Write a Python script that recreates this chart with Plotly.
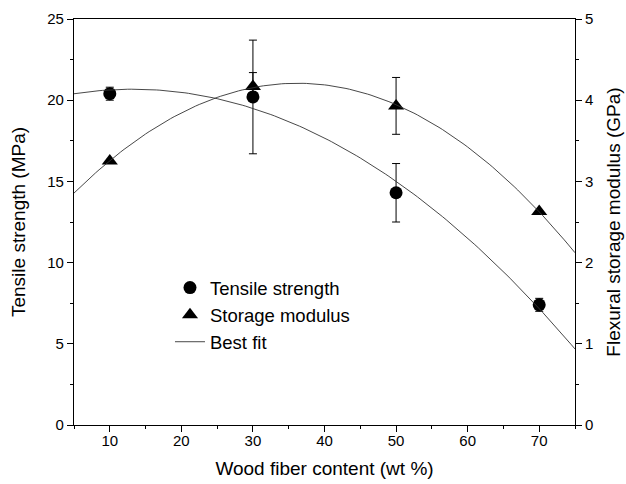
import numpy as np
import plotly.graph_objects as go

# Data
fiber_content = [10, 30, 50, 70]
tensile_strength = [20.4, 20.2, 14.3, 7.4]        # MPa (left axis)
tensile_err = [0.4, 3.5, 1.8, 0.4]
storage_modulus = [3.25, 4.17, 3.93, 2.63]        # GPa (right axis)
storage_err = [0.0, 0.17, 0.35, 0.0]

x_ticks = [10, 20, 30, 40, 50, 60, 70]
y_ticks = [0, 5, 10, 15, 20, 25]
y2_ticks = [0, 1, 2, 3, 4, 5]

# Quadratic best fits computed from the data
xf = np.linspace(5, 75, 141)
fit_t = np.polyval(np.polyfit(fiber_content, tensile_strength, 2), xf)
fit_s = np.polyval(np.polyfit(fiber_content, storage_modulus, 2), xf)

FONT = "Liberation Sans, Arial, sans-serif"
fig = go.Figure()

fig.add_trace(go.Scatter(
    x=fiber_content, y=tensile_strength, mode="markers", name="Tensile strength",
    marker=dict(symbol="circle", size=13, color="black"),
    error_y=dict(type="data", array=tensile_err, color="black", thickness=1, width=4),
    yaxis="y"))
fig.add_trace(go.Scatter(
    x=fiber_content, y=storage_modulus, mode="markers", name="Storage modulus",
    marker=dict(symbol="triangle-up", size=14, color="black"),
    error_y=dict(type="data", array=storage_err, color="black", thickness=1, width=4),
    yaxis="y2"))
fig.add_trace(go.Scatter(
    x=xf, y=fit_t, mode="lines", name="Best fit",
    line=dict(color="#333333", width=0.9), yaxis="y"))
fig.add_trace(go.Scatter(
    x=xf, y=fit_s, mode="lines", name="Best fit", showlegend=False,
    line=dict(color="#333333", width=0.9), yaxis="y2"))

axis_common = dict(showgrid=False, zeroline=False, showline=True, linecolor="black",
                   linewidth=1.2, ticks="outside", ticklen=6, tickwidth=1, tickcolor="black",
                   automargin=False,
                   tickfont=dict(family=FONT, size=15, color="black"))

fig.update_layout(
    width=626, height=484,
    margin=dict(l=74, r=51, t=19, b=59),
    paper_bgcolor="white", plot_bgcolor="white",
    font=dict(family=FONT, color="black"),
    xaxis=dict(range=[5, 75], tickvals=x_ticks, mirror=True, ticklabelstandoff=-4,
               minor=dict(ticks="outside", ticklen=3, dtick=5, tick0=5, tickcolor="black"),
               title=dict(text="Wood fiber content (wt %)", font=dict(family=FONT, size=19), standoff=13),
               **axis_common),
    yaxis=dict(range=[0, 25], tickvals=y_ticks,
               minor=dict(ticks="outside", ticklen=3, dtick=2.5, tick0=0, tickcolor="black"),
               title=dict(text="Tensile strength (MPa)", font=dict(family=FONT, size=19), standoff=16),
               **axis_common),
    yaxis2=dict(range=[0, 5], tickvals=y2_ticks, overlaying="y", side="right",
                minor=dict(ticks="outside", ticklen=3, dtick=0.5, tick0=0, tickcolor="black"),
                title=dict(text="Flexural storage modulus (GPa)", font=dict(family=FONT, size=19), standoff=14),
                **axis_common),
    legend=dict(x=0.1916, y=0.384, xanchor="left", yanchor="top", bgcolor="rgba(0,0,0,0)",
                font=dict(family=FONT, size=18.5, color="black"), tracegroupgap=0),
    showlegend=True,
)

fig.write_html("out.html")
